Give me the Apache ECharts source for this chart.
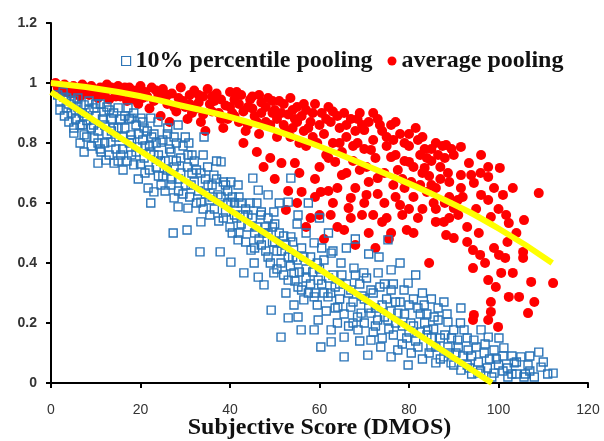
<!DOCTYPE html>
<html><head><meta charset="utf-8">
<script src="https://cdn.jsdelivr.net/npm/echarts@6/dist/echarts.min.js"></script>
<style>html,body{margin:0;padding:0;background:#fff}#c{width:604px;height:441px}</style>
</head><body><div id="c"></div>
<script>
const xTicks = [0, 20, 40, 60, 80, 100, 120];
const yTicks = [0, 0.2, 0.4, 0.6, 0.8, 1, 1.2];
const seriesNames = ['10% percentile pooling', 'average pooling'];

const percentilePooling = [
[1.5,0.96],[2,0.94],[2.7,0.97],[2.9,0.953],[3.4,0.917],[4,0.93],[4.5,0.9],[5.1,0.943],[5.1,0.85],[5.1,0.833],[5.5,0.88],[6,0.92],[6.5,0.86],[7,0.9],[7.4,0.927],[7.4,0.827],[7.4,0.77],[8,0.875],[8.5,0.94],[9,0.85],[9.6,0.917],[9.6,0.817],[10,0.89],[10.5,0.733],[10.5,0.8],
[11,0.93],[11.2,0.77],[11.8,0.903],[12,0.86],[12.3,0.743],[12.5,0.83],[13,0.91],[13.4,0.803],[13.5,0.88],[14,0.85],[14.1,0.733],[14.5,0.78],[15,0.917],[15,0.85],[15.6,0.76],[16,0.82],[16.1,0.71],[16.5,0.89],[17.2,0.917],[17.5,0.8],[17.9,0.883],[17.9,0.827],[18,0.76],[18.5,0.727],[19,0.86],[19.4,0.787],[19.5,0.68],[20.1,0.883],[20.5,0.81],[20.8,0.85],[20.8,0.75],
[21,0.7],[21.7,0.65],[22,0.79],[22.3,0.883],[22.3,0.77],[22.3,0.6],[23,0.637],[23,0.83],[23.5,0.72],[23.9,0.87],[24,0.76],[24.6,0.803],[24.6,0.66],[25,0.69],[25.5,0.74],[26,0.83],[26.1,0.85],[26.8,0.77],[26.8,0.66],[27.3,0.5],[27.5,0.617],[27.5,0.72],[28,0.8],[28.4,0.86],[28.4,0.587],[28.5,0.68],[29,0.75],[29.5,0.63],[30,0.82],[30.4,0.51],
[30.6,0.76],[30.6,0.583],[30.8,0.8],[31.3,0.66],[31.5,0.7],[32,0.74],[32.5,0.6],[33.3,0.437],[33.5,0.603],[33.5,0.537],[34,0.76],[34.2,0.82],[34.5,0.68],[35.1,0.66],[35.5,0.56],[36,0.62],[36.4,0.693],[37,0.74],[37.3,0.627],[37.8,0.437],[38,0.737],[38.5,0.55],[39,0.66],[39.5,0.6],[40.2,0.67],[40.2,0.603],[40.2,0.403],
[40.5,0.5],[41,0.56],[41.8,0.66],[41.8,0.477],[42,0.62],[42.5,0.53],[43.1,0.367],[43.5,0.58],[44,0.56],[44.7,0.443],[45.1,0.683],[45.4,0.4],[45.5,0.5],[46,0.6],[46.3,0.643],[46.3,0.353],[46.9,0.56],[47,0.46],[47.6,0.327],[48,0.52],[48.5,0.627],[48.5,0.5],[48.5,0.42],[49.2,0.243],[49.5,0.47],[49.8,0.57],[49.8,0.367],[50,0.53],
[50.5,0.44],[51,0.6],[51.4,0.4],[51.4,0.153],[52,0.49],[52.5,0.3],[53,0.603],[53,0.343],[53,0.217],[53.6,0.683],[53.6,0.487],[54,0.42],[54.3,0.367],[54.3,0.26],[55,0.53],[55.2,0.56],[55.2,0.32],[55.2,0.22],[55.9,0.177],[56,0.45],[56.5,0.277],[57,0.38],[57,0.5],[57.5,0.6],[58,0.33],[58.8,0.467],[58.8,0.287],[58.8,0.177],[59.5,0.4],[59.7,0.343],[59.7,0.21],[60,0.55],
[60.3,0.12],[60.5,0.45],[61,0.3],[61.9,0.287],[62,0.5],[62.6,0.433],[62.6,0.177],[62.6,0.137],[63,0.36],[63.5,0.25],[64.1,0.253],[64.5,0.33],[64.8,0.4],[65.5,0.153],[65.5,0.087],[66,0.45],[66.5,0.3],[67,0.253],[67.5,0.2],[67.7,0.383],[68,0.48],[68.6,0.177],[69,0.33],[69.3,0.233],[69.9,0.367],[70,0.28],
[70.8,0.093],[71,0.43],[71.5,0.233],[71.5,0.143],[72,0.3],[72.5,0.19],[73.1,0.367],[73.3,0.42],[73.7,0.12],[74,0.26],[74.5,0.33],[75.3,0.477],[75.3,0.21],[76,0.377],[76,0.31],[76,0.087],[76.5,0.16],[77,0.27],[77.5,0.233],[78,0.4],[78.5,0.13],[78.9,0.31],[79.8,0.333],[79.8,0.06],[80,0.17],[80.4,0.2],
[81,0.28],[81.5,0.36],[82,0.12],[82.5,0.23],[83,0.3],[83.4,0.26],[84,0.16],[84.2,0.177],[84.9,0.12],[85,0.28],[85.6,0.22],[86,0.067],[86.5,0.25],[87,0.15],[87.8,0.27],[87.8,0.087],[88.7,0.203],[88.7,0.12],[89.4,0.067],[90,0.177],[90.5,0.1],
[90.9,0.143],[91.6,0.25],[91.6,0.043],[92.3,0.177],[93,0.06],[93.2,0.11],[94,0.03],[94.5,0.143],[95.4,0.033],[96.1,0.177],[96.8,0.1],[97.5,0.05],[97.7,0.153],[98.5,0.02],[99,0.033],[99.5,0.08],[100.1,0.15],[101,0.04],[101.2,0.117],[102.1,0.02],[103,0.09],[103.5,0.067],[104,0.03],[105,0.087],[105.7,0.02],[106.6,0.06],[107,0.04],[108,0.02],[109,0.103],[109.5,0.053],[111,0.03],[112.2,0.033],
[2,0.91],[3,0.89],[3.5,0.95],[4,0.87],[4.5,0.94],[5.5,0.91],[6,0.95],[6.5,0.8],[7,0.86],[7.5,0.89],[8,0.82],[8.5,0.91],[9,0.79],[9.5,0.86],[10,0.93],[10.5,0.84],[11,0.78],[11.5,0.88],[12,0.8],[12.5,0.92],[13,0.76],[13.5,0.84],[14,0.9],[14.5,0.82],[15,0.74],[15.5,0.88],[16,0.78],[16.5,0.85],[17,0.74],[17.5,0.88],[18,0.81],[18.5,0.9],[19,0.77],[19.5,0.83],[20,0.73],[20.5,0.87],
[21,0.79],[21.5,0.84],[22,0.71],[22.5,0.82],[23,0.76],[23.5,0.8],[24,0.69],[24.5,0.74],[25,0.81],[25.5,0.64],[26,0.71],[26.5,0.78],[27,0.68],[27.5,0.82],[28,0.74],[28.5,0.64],[29,0.7],[29.5,0.79],[30,0.66],[30.5,0.72],
[31,0.62],[31.5,0.76],[32,0.67],[32.5,0.71],[33,0.64],[33.5,0.7],[34,0.58],[34.5,0.63],[35,0.72],[35.5,0.61],[36,0.66],[36.5,0.58],[37,0.68],[37.5,0.54],[38,0.62],[38.5,0.67],[39,0.57],[39.5,0.64],[40,0.52],[40.5,0.62],
[41,0.6],[41.5,0.55],[42,0.5],[42.5,0.6],[43,0.56],[43.5,0.47],[44,0.52],[44.5,0.6],[45,0.55],[45.5,0.45],[46,0.52],[46.5,0.48],[47,0.57],[47.5,0.5],[48,0.44],[48.5,0.55],[49,0.4],[49.5,0.52],[50,0.47],[50.5,0.38],
[51,0.5],[51.5,0.44],[52,0.36],[52.5,0.46],[53,0.42],[53.5,0.39],[54,0.47],[54.5,0.34],[55,0.41],[55.5,0.37],[56,0.31],[56.5,0.42],[57,0.35],[57.5,0.3],[58,0.42],[58.5,0.37],[59,0.3],[59.5,0.26],[60,0.38],[60.5,0.33],
[61,0.41],[61.5,0.24],[62,0.35],[62.5,0.3],[63,0.44],[63.5,0.32],[64,0.2],[64.5,0.28],[65,0.36],[65.5,0.23],[66,0.33],[66.5,0.19],[67,0.31],[67.5,0.27],[68,0.36],[68.5,0.22],[69,0.14],[69.5,0.29],[70,0.2],[70.5,0.35],
[71,0.25],[71.5,0.31],[72,0.17],[72.5,0.25],[73,0.21],[73.5,0.32],[74,0.15],[74.5,0.22],[75,0.28],[75.5,0.18],[76,0.24],[76.5,0.33],[77,0.2],[77.5,0.11],[78,0.27],[78.5,0.19],[79,0.23],[79.5,0.15],[80,0.26],[80.5,0.1],
[81,0.19],[81.5,0.14],[82,0.25],[82.5,0.17],[83,0.08],[83.5,0.2],[84,0.23],[84.5,0.1],[85,0.15],[85.5,0.18],[86,0.12],[86.5,0.21],[87,0.08],[88,0.16],[88.5,0.23],[89,0.1],[89.5,0.15],[90,0.06],
[91,0.12],[91.5,0.2],[92,0.09],[93,0.15],[93.5,0.05],[94,0.09],[95,0.12],[95.5,0.07],[96,0.04],[97,0.13],[98,0.08],[99,0.11],[100,0.06],[101,0.09],[102,0.05],[103,0.03],[104,0.07],[106,0.03],[107,0.09],[110,0.07]
];

const averagePooling = [
[1,1.0],[2,0.99],[2.5,0.975],[3,0.995],[4,0.98],[4.5,0.965],[5,0.99],[6,0.975],[6.5,0.955],[7,0.995],[8,0.98],[8.5,0.96],[9,0.99],[10,0.97],[10.5,0.95],
[11,0.985],[12,0.965],[12.5,0.995],[13,0.945],[14,0.975],[15,0.99],[15.5,0.955],[16,0.97],[17,0.94],[17.5,0.985],[18,0.96],[19,0.975],[19.5,0.93],[20,0.99],[20.5,0.95],
[21,0.97],[22,0.915],[22.5,0.985],[23,0.94],[24,0.96],[24.5,0.89],[25,0.98],[26,0.93],[26.5,0.87],[27,0.965],[28,0.905],[28.5,0.95],[29,0.985],[30,0.92],[30.5,0.88],
[31,0.96],[31.5,0.9],[32,0.975],[33,0.935],[33.5,0.87],[34,0.955],[34.5,0.84],[35,0.98],[36,0.905],[36.5,0.94],[37,0.965],[38,0.88],[38.5,0.85],[39,0.925],[40,0.97],[40.5,0.9],
[41,0.945],[42,0.87],[42.5,0.96],[43,0.8],[43.5,0.84],[44,0.92],[45,0.955],[45.5,0.89],[46,0.77],[46.5,0.83],[47,0.935],[47.5,0.72],[48,0.87],[48.5,0.95],[49,0.75],[49.5,0.9],[50,0.68],[50.5,0.82],
[51,0.94],[51.5,0.733],[52,0.86],[52.5,0.577],[53,0.64],[53.5,0.82],[54,0.91],[54.5,0.733],[55,0.87],[55.5,0.7],[56,0.637],[56.5,0.93],[57,0.79],[57.5,0.85],[58,0.55],[58.5,0.9],[59,0.68],[59.5,0.8],[60,0.56],[60.3,0.637],
[61,0.48],[61.5,0.88],[62,0.75],[62.5,0.56],[63,0.905],[63.5,0.737],[64,0.65],[64.5,0.8],[65,0.693],[65.5,0.51],[66,0.86],[66.5,0.583],[67,0.617],[67.5,0.79],[68,0.46],[68.5,0.88],[69,0.71],[69.5,0.56],[70,0.843],[70.5,0.627],
[71,0.5],[71.5,0.777],[72,0.9],[72.5,0.45],[73,0.683],[73.5,0.86],[74,0.537],[74.5,0.6],[75,0.82],[75.5,0.48],[76,0.753],[76.5,0.66],[77,0.87],[77.5,0.71],[78,0.593],[78.5,0.56],[79,0.8],[79.5,0.51],[80,0.737],[80.5,0.67],[80,0.83],
[81,0.62],[81.5,0.85],[82,0.55],[82.5,0.76],[83,0.7],[83,0.82],[83.5,0.717],[84,0.637],[84,0.75],[84.5,0.4],[85,0.78],[85.5,0.6],[86,0.537],[86,0.8],[86.5,0.76],[87,0.68],[87.8,0.537],[88.3,0.793],[88.3,0.493],[88.7,0.70],[89,0.62],[90,0.76],[90,0.583],[90,0.483],
[90.9,0.61],[91.6,0.787],[91.6,0.693],[91.6,0.65],[93.4,0.733],[93.9,0.693],[94.3,0.443],[94.3,0.383],[94.3,0.21],[94.5,0.667],[94.5,0.227],[95.6,0.5],[95.9,0.427],[96.1,0.76],[96.1,0.627],[97.7,0.72],[97.7,0.687],[97.7,0.61],[97.7,0.343],[97.7,0.21],[98.3,0.553],[98.3,0.27],[98.3,0.237],[99.4,0.32],[99.9,0.187],
[100.1,0.427],[100.3,0.717],[100.6,0.367],[101,0.627],[101.5,0.417],[101.7,0.56],[102.3,0.533],[102.3,0.287],[103.2,0.65],[103.2,0.367],[104.6,0.287],[105.5,0.437],[105.5,0.417],[105.7,0.543],[106.6,0.233],[107.3,0.337],[108,0.27],[109,0.633],[112.2,0.333],
[1.5,0.985],[3.5,0.97],[5.5,0.98],[7.5,0.965],[9.5,0.975],[11.5,0.96],[13.5,0.985],[14.5,0.955],[16.5,0.985],[18.5,0.945],[21.5,0.955],[23.5,0.975],[25.5,0.945],[26,0.96],[27.5,0.92],[29.5,0.94],
[31,0.93],[32.5,0.915],[33,0.96],[34,0.895],[35.5,0.93],[36,0.955],[37.5,0.9],[38,0.945],[39.5,0.88],[40,0.92],[41,0.89],[41.5,0.97],[42,0.93],[43,0.905],[44,0.86],[44.5,0.945],[45,0.915],[46,0.87],[46.5,0.96],[47,0.9],[48,0.92],[49,0.86],[49.5,0.94],[50,0.91],[50.5,0.88],
[51.5,0.9],[52,0.93],[52.5,0.84],[53,0.895],[53.5,0.95],[54,0.85],[54.5,0.88],[55,0.92],[55.5,0.8],[56,0.89],[56.5,0.84],[57,0.91],[58,0.87],[58.5,0.82],[59,0.93],[60,0.86],[60.5,0.9],
[61,0.83],[61.5,0.76],[62,0.92],[62.5,0.87],[63,0.8],[64,0.89],[64.5,0.85],[65,0.77],[65.5,0.9],[66,0.82],[67,0.88],[67.5,0.74],[68,0.84],[68.5,0.8],[69,0.9],[69.5,0.86],[70,0.78],[70.5,0.72],
[71,0.87],[72,0.81],[72.5,0.75],[73,0.88],[74,0.84],[74.5,0.7],[75,0.79],[76,0.86],[76.5,0.81],[77,0.76],[78,0.83],[78.5,0.68],[79,0.74],[80,0.79],[81,0.72],[82,0.81],[82.5,0.66],[83.5,0.78],[84.5,0.69],[85,0.74],[86,0.65],[87,0.72],[87.5,0.79],[88,0.75],[89,0.67],[89.5,0.78],
[55,0.6],[57,0.52],[59,0.62],[60,0.72],[62,0.64],[63,0.6],[64,0.52],[66,0.7],[67,0.55],[68,0.65],[70,0.6],[71,0.67],[72,0.56],[73,0.63],[75,0.55],[76,0.5],[77,0.62],[79,0.65],[80,0.58],[81,0.5],[83,0.58],[85,0.66],[86,0.58],[88,0.6],[89,0.55],[91,0.56],[92,0.62],[93,0.52],[95,0.58],[96,0.7],[99,0.65],[100,0.58],[102,0.47],[104,0.5],[93,0.47],[97,0.4],[99,0.45]
];

const percentileFit = [[0,0.97],[98.5,0]];
const averageFit = [[0,1.0],[15,0.97],[29,0.925],[44,0.87],[58,0.80],[72,0.715],[87,0.617],[100,0.515],[112,0.40]];

const chart = echarts.init(document.getElementById('c'));
const serif = 'Liberation Serif';
chart.setOption({
  backgroundColor: '#fff',
  animation: false,
  grid: { left: 51, right: 16, top: 23, bottom: 58, containLabel: false, outerBoundsMode: 'none' },
  legend: {
    left: 116, top: 44, itemGap: 15, itemWidth: 9, itemHeight: 9,
    textStyle: { fontFamily: serif, fontWeight: 'bold', fontSize: 24, color: '#111' },
    data: [
      { name: seriesNames[0], icon: 'rect', itemStyle: { color: '#fff', borderColor: '#2e75b6', borderWidth: 1.2 } },
      { name: seriesNames[1], icon: 'circle', itemStyle: { color: '#ff0000' } }
    ]
  },
  xAxis: {
    type: 'value', min: xTicks[0], max: xTicks[xTicks.length - 1], interval: 20,
    name: 'Subjective Score (DMOS)', nameLocation: 'middle', nameGap: 33, nameMoveOverlap: false,
    nameTextStyle: { fontFamily: serif, fontWeight: 'bold', fontSize: 24, color: '#111' },
    axisLine: { lineStyle: { color: '#000', width: 2 } },
    axisTick: { show: true, length: 5, lineStyle: { color: '#000', width: 2 } },
    axisLabel: { fontFamily: 'Liberation Sans', fontSize: 14, color: '#333', margin: 20 },
    splitLine: { show: false }
  },
  yAxis: {
    type: 'value', min: yTicks[0], max: yTicks[yTicks.length - 1], interval: 0.2,
    axisLine: { show: true, lineStyle: { color: '#000', width: 2 } },
    axisTick: { show: true, length: 5, lineStyle: { color: '#000', width: 2 } },
    axisLabel: { fontFamily: 'Liberation Sans', fontWeight: 'bold', fontSize: 14, color: '#333', margin: 14 },
    splitLine: { show: false }
  },
  series: [
    {
      name: seriesNames[1], type: 'scatter', symbol: 'circle', symbolSize: 10,
      itemStyle: { color: '#ff0000', opacity: 1 }, data: averagePooling, z: 2
    },
    {
      name: seriesNames[0], type: 'scatter', symbol: 'rect', symbolSize: 8,
      itemStyle: { color: 'rgba(255,255,255,0)', borderColor: '#2a74b8', borderWidth: 1.4, opacity: 1 }, data: percentilePooling, z: 3
    },
    {
      name: 'fit1', type: 'line', data: percentileFit, showSymbol: false, symbol: 'none',
      lineStyle: { color: '#ffff00', width: 6 }, z: 4, silent: true
    },
    {
      name: 'fit2', type: 'line', data: averageFit, smooth: true, showSymbol: false, symbol: 'none',
      lineStyle: { color: '#ffff00', width: 6 }, z: 4, silent: true
    }
  ]
});
</script></body></html>
